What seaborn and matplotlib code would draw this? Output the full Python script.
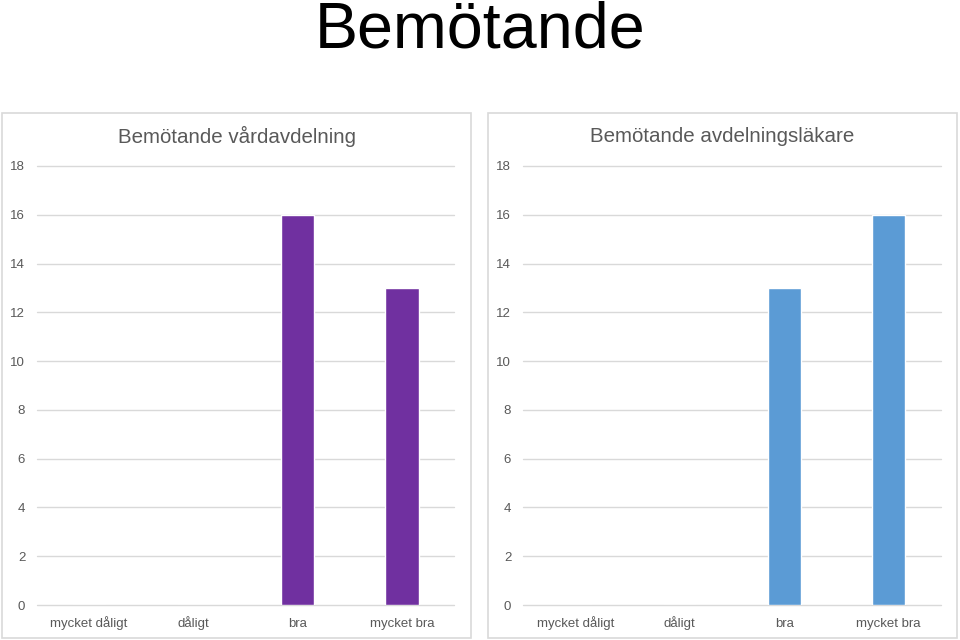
import matplotlib
matplotlib.use("Agg")
import matplotlib.pyplot as plt
import seaborn as sns
from matplotlib.patches import Rectangle

categories = ["mycket dåligt", "dåligt", "bra", "mycket bra"]
vard_values = [0, 0, 16, 13]
lakare_values = [0, 0, 13, 16]
main_title = "Bemötande"
titles = ["Bemötande vårdavdelning", "Bemötande avdelningsläkare"]
yticks = list(range(0, 19, 2))

sns.set_theme(style="white")
plt.rcParams['font.family'] = ['Liberation Sans', 'DejaVu Sans']

fig = plt.figure(figsize=(9.6, 6.4), dpi=100)
W, H = 960, 640

def fbox(x0, y0, x1, y1):
    return [x0 / W, 1 - y1 / H, (x1 - x0) / W, (y1 - y0) / H]

# panel frames
for (x0, x1) in [(2, 471), (488, 957)]:
    b = fbox(x0, 113, x1, 638)
    fig.patches.append(Rectangle((b[0], b[1]), b[2], b[3], transform=fig.transFigure,
                                 facecolor="none", edgecolor="#d9d9d9", linewidth=1.2, zorder=-1))

fig.text(0.5, 1 - 31 / H, main_title, ha="center", va="center", fontsize=46.5, color="black")

panels = [
    (fbox(37, 166, 454, 605), vard_values, "#7030A0", titles[0], (2, 471)),
    (fbox(523, 166, 941, 605), lakare_values, "#5B9BD5", titles[1], (488, 957)),
]

for rect, vals, col, title, (bx0, bx1) in panels:
    ax = fig.add_axes(rect)
    ax.patch.set_alpha(0)
    sns.barplot(x=categories, y=vals, color=col, width=0.32, ax=ax, saturation=1, zorder=3)
    ax.set_ylim(0, 18)
    ax.set_yticks(yticks)
    ax.set_xlim(-0.5, 3.5)
    for y in yticks:
        ax.axhline(y, color="#d9d9d9", linewidth=1.0, zorder=1, clip_on=False)
    for s in ax.spines.values():
        s.set_visible(False)
    ax.tick_params(axis="both", length=0, labelsize=9.5, labelcolor="#595959")
    ax.tick_params(axis="y", pad=8.5)
    ax.tick_params(axis="x", pad=15.5)
    for lab in ax.get_xticklabels():
        lab.set_verticalalignment("baseline")
    ax.set_xlabel("")
    ax.set_ylabel("")
    cx = (bx0 + bx1) / 2 / W
    fig.text(cx, 1 - 136 / H, title, ha="center", va="center", fontsize=14.8, color="#595959")

fig.savefig("out.png", dpi=100)
